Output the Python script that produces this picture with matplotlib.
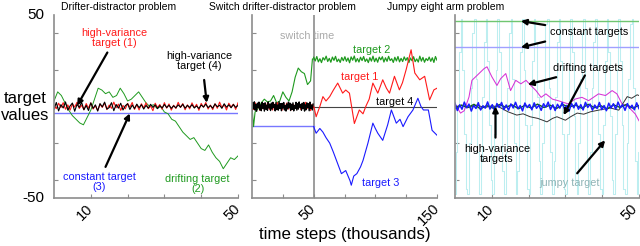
import numpy as np
import matplotlib
matplotlib.use("Agg")
import matplotlib.pyplot as plt
from matplotlib.transforms import ScaledTranslation

plt.rcParams['font.family'] = ['Liberation Sans', 'DejaVu Sans']

# ---------------- data ----------------
# panel 1: drifter-distractor
p1_red_hv = [0.5, -1.2, 1.8, -0.6, 2.1, -1.5, 0.9, -2.0, 1.4, -0.3, 2.3, -1.1, 0.7, -1.8, 1.6, -0.9,
             2.0, -1.4, 0.4, -2.2, 1.2, -0.5, 1.9, -1.7, 0.8, -1.0, 2.4, -0.7, 1.3, -2.1, 0.6, -1.3,
             1.7, -0.4, 2.2, -1.6, 1.0, -1.9, 1.5, -0.8, 2.0, -1.2, 0.3, -2.3, 1.8, -0.6, 1.1, -1.5,
             2.1, -0.9, 1.4, -2.0, 0.7, -1.1, 2.3, -0.5, 1.6, -1.8, 0.9, -1.3, 2.0, -0.7, 1.2, -2.1,
             1.7, -0.4, 2.2, -1.4, 0.8, -1.7, 1.5, -1.0, 2.4, -0.6, 1.1, -1.9, 1.8, -0.3, 1.3, -1.6, 2.0]
p1_black_hv = [-1.5, 2.2, -2.4, 1.0, -0.8, 2.5, -2.0, 0.3, 1.9, -2.6, 1.2, -0.5, 2.3, -1.8, 0.6, -2.2,
               2.0, -1.0, 0.9, -2.5, 1.6, -0.2, 2.4, -1.4, -0.6, 2.1, -2.3, 1.1, -0.9, 1.8, -1.9, 0.4,
               1.5, -1.6, 0.8, -1.1, 1.3, -0.7, 1.0, -1.4, 0.6, -0.9, 1.2, -0.5, 0.9, -1.2, 0.5, -0.8,
               1.1, -0.6, 0.7, -1.0, 0.4, -0.7, 0.9, -0.4, 1.2, -0.9, 0.6, -0.5, 1.0, -0.8, 0.3, -1.1,
               0.8, -0.3, 1.3, -0.6, 0.5, -0.9, 1.4, -0.2, 0.7, -1.0, 1.5, -0.4, 0.9, -0.7, 1.1, -0.5, 0.6]
p1_green_drift = [3, 8, 6, 2, -2, -5, -7, -9, -10, -6, -2, 4, 10, 9, 7, 8, 5, 6, 10, 7, 3, 4, 6, 8, 5,
                  2, 0, 1, -1, 0, -3, -4, -7, -8, -11, -14, -16, -18, -17, -20, -23, -24, -21, -25,
                  -28, -30, -34, -31, -28, -29, -27]
p1_blue_const = -3.6

# panel 2: switch drifter-distractor
p2_green_drift_t = [0, 1.25, 2.5, 5, 7.5, 10, 12.5, 15, 17.5, 20, 22.5, 25, 27.5, 30, 32.5, 35, 37.5,
                    40, 42.5, 45, 47.5, 49, 50]
p2_green_drift = [0, -11, -3, -1, 2, 4, 2.5, 3, 6, 2, 3, 8, 5, 3, 8, 16, 21, 19, 18, 12, 14, 26, 26]
p2_green_hv = [25.7 + d for d in
               [1.2, -0.8, 1.6, -1.3, 0.4, -1.7, 1.0, -0.3, 1.8, -1.1, 0.6, -1.5, 1.3, -0.5, 1.7, -1.2,
                0.2, -1.6, 1.1, -0.7, 1.5, -1.0, 0.8, -1.8, 1.4, -0.4, 1.9, -1.3, 0.5, -1.4, 1.2, -0.6,
                1.6, -1.1, 0.3, -1.7, 1.0, -0.9, 1.8, -1.2, 0.7, -1.5, 1.3, -0.2, 1.5, -1.4, 0.9, -1.0,
                1.7, -0.6, 0.4, -1.6, 1.2, -0.8, 1.6, -1.3, 0.6, -1.1, 1.4, -0.5, 1.0, -1.7, 0.8, -0.7,
                1.5, -1.2, 0.3, -1.4, 1.8, -0.9, 1.1, -1.5, 0.5, -0.6, 1.3, -1.0, 0.9, -1.6, 1.6, -0.4]]
p2_red_hv = [1.0, -1.6, 2.0, -0.9, 1.4, -2.1, 0.6, -1.2, 1.8, -0.4, 2.2, -1.5, 0.8, -1.9, 1.3, -0.7,
             2.1, -1.1, 0.5, -2.0, 1.6, -0.6, 1.9, -1.4, 0.9, -1.8, 1.2, -0.3, 2.0, -1.3, 0.7, -1.7,
             1.5, -0.8, 2.3, -1.0, 0.4, -2.2, 1.1, -0.5]
p2_red_drift_t = [50, 50.5, 52, 55, 57.5, 60, 63, 66, 69.5, 73.5, 76, 79, 83, 87, 90, 92.5, 95, 98, 102,
                  106, 109, 111.5, 115.5, 119.5, 122, 125, 129, 132, 136, 140, 144, 147.5, 150]
p2_red_drift = [0, -1, -5.6, 0, 5.4, 3, 5.4, 9, 12.8, 7.3, 9, 7.3, -9.3, -1.9, -4, 0.4, 4, 12.8, 7.3,
                14.6, 10, 7.3, 16.5, 9.1, 13, 20.2, 31, 18.3, 14.6, 16.5, 3.6, 9.1, 10]
p2_black_hv = [-2.4, 2.1, -1.2, 2.6, -2.0, 1.1, -2.6, 1.8, -0.6, 2.4, -1.8, 0.9, -2.3, 2.2, -1.0, 1.6,
               -2.5, 2.0, -1.5, 0.7, -2.1, 2.5, -0.8, 1.3, -2.2, 1.9, -1.4, 2.3, -0.5, 1.0, -2.4, 2.1,
               -1.7, 0.8, -2.0, 2.6, -1.1, 1.5, -2.3, 1.7, -0.9, 2.2, -1.9, 0.5, -2.5, 1.4, -1.3, 2.4,
               -0.7, 1.9, -2.2, 1.2, -1.6, 2.0, -2.4, 0.6, -1.0, 2.3, -2.0, 1.6, -1.4, 2.5, -0.4, 1.1,
               -2.1, 1.8, -1.2, 2.2, -2.5, 0.9, -1.8, 2.0, -0.6, 1.5, -2.3, 2.4, -1.1, 0.8, -1.9, 1.3]
p2_black_const = 0.0
p2_blue_const = -10.6
p2_blue_drift_t = [50, 52, 55, 57.5, 60, 63, 66, 68.5, 72.5, 76, 79.5, 80.5, 82.5, 85, 88, 90, 94, 98,
                   100, 102, 106, 110, 113, 117, 120, 122.5, 126.5, 130.5, 134.5, 137, 139, 143, 146, 150]
p2_blue_drift = [-11, -14.6, -12, -14, -17, -20, -25, -29.5, -36.7, -35, -40.6, -43, -38, -36.7, -33,
                 -29.5, -20, -9.1, -12, -14.6, -18.5, -10, -1.9, -9.1, -7, -11, -5.6, -1.9, 4.5, 0,
                 -1.9, -1.9, -13, -15.7]

# panel 3: jumpy eight arm
p3_green_const = 46.7
p3_blue_const = 32.3
p3_magenta_t = [0, 1.5, 2.5, 3.8, 4.6, 6, 7.9, 8.7, 10, 11.4, 12.4, 13.8, 15.1, 16.5, 17.9, 19.3, 20.6,
                22, 23.4, 24.7, 26.5, 28, 30.8, 32.7, 34.5, 36.3, 39, 40.9, 42.7, 44, 45.4, 47, 49, 50]
p3_magenta = [1.4, -3.6, -2.3, 5.2, 14.3, 17, 20.7, 21.7, 16.3, 11.5, 15.2, 18, 8.7, 14.3, 12.4, 14.3,
              11.5, 8.7, 5, 6.9, 4, 3.2, 1.4, 4.1, 5, 3.2, 6.9, 6, 8.7, 6.9, 1.4, 0, -4.1, -7.8]
p3_black_t = [0, 2, 4, 6, 8, 10, 12, 14.4, 16.8, 18.5, 20.4, 22.5, 25, 26.5, 27.7, 30, 31.5, 33.2,
              35, 36.8, 39, 42.2, 44.5, 46.8, 48, 49.5, 50]
p3_black = [0, 0.5, -0.5, 0.8, -0.6, 0.4, -0.3, -2.9, -4.7, -4, -5.6, -6.5, -8.4, -6.5, -5.6, -7.5,
            -5.5, -3.6, -4.2, -2.9, -2, -0.8, -2, 5.4, 4.5, 6.4, 6]
p3_blue_hv = [1.8, -2.2, 0.9, -1.5, 2.4, -0.7, 1.3, -2.5, 0.6, -1.1, 2.1, -1.9, 0.4, -0.9, 2.5, -1.4,
              1.0, -2.3, 1.6, -0.5, 2.2, -1.7, 0.8, -2.0, 1.4, -0.8, 2.3, -1.2, 0.5, -2.4, 1.9, -0.6,
              1.1, -1.8, 2.0, -1.0, 0.7, -2.1, 1.5, -0.4, 2.4, -1.6, 0.9, -2.2, 1.2, -0.9, 2.1, -1.3,
              0.6, -2.5, 1.7, -0.7, 2.0, -1.5, 1.0, -1.9, 2.3, -0.5, 1.3, -2.0, 0.8, -1.1, 2.2, -1.7,
              0.5, -2.3, 1.8, -0.8, 1.5, -1.4, 2.4, -0.6, 1.0, -2.1, 1.6, -1.0, 0.7, -1.8, 2.0, -1.2]
p3_green_hv = [-1.0, 0.8, -0.6, 1.2, -1.3, 0.5, -0.9, 1.1, -0.4, 0.9, -1.2, 0.6, -0.8, 1.3, -0.5, 0.7,
               -1.1, 1.0, -0.3, 0.8, -1.0, 1.2, -0.7, 0.4, -1.3, 0.9, -0.5, 1.1, -0.9, 0.6]
p3_jumpy = [-48, -25, 0, 30, 48, 20, -15, -45,
            -48, -20, 10, 40, 48, 15, -25, -48,
            -30, 5, 35, 48, 25, -10, -40, -48,
            -15, 20, 48, 30, 0, -35, -48, -25,
            10, 40, 48, 15, -20, -48, -35, 0,
            30, 48, 20, -10, -45, -48, -10, 25,
            48, 35, 5, -30, -48, -20, 15, 45,
            48, 10, -25, -48, -30, 5, 35, 48,
            25, -15, -45, -48, -15, 20, 48, 30,
            -5, -40, -48, -20, 15, 40, 48, 10,
            -30, -48, -25, 10, 35, 48, 20, -15,
            -45, -48, -10, 25, 48, 30, -5, -40,
            -48, -15, 20, 48, 25, -10, -45, -48,
            -20, 15, 45, 48, 10, -30, -48, -25]

RED = '#ff1a1a'
GREEN = '#1f9a1f'
BLUE = '#1a1aff'
LBLUE = '#7777ff'
GRAY = '#8c8c8c'


def style_axes(ax, xmax, xticks, labelled):
    ax.set_xlim(0, xmax)
    ax.set_ylim(-50, 50)
    for s in ['top', 'right']:
        ax.spines[s].set_visible(False)
    for s in ['left', 'bottom']:
        ax.spines[s].set_color(GRAY)
        ax.spines[s].set_linewidth(1.2)
    ax.set_yticks([-40, -20, 0, 20, 40])
    ax.set_yticklabels([])
    ax.set_xticks(xticks)
    ax.set_xticklabels([str(t) if t in labelled else '' for t in xticks],
                       rotation=45, ha='right', va='center', rotation_mode='anchor', fontsize=10.5)
    ax.tick_params(direction='in', length=3, color=GRAY, width=0.8, pad=6)


fig = plt.figure(figsize=(6.4, 2.46), dpi=100)
ax1 = fig.add_axes([54 / 640, 1 - 198 / 246, 184 / 640, 183 / 246])
ax2 = fig.add_axes([252 / 640, 1 - 198 / 246, 185 / 640, 183 / 246])
ax3 = fig.add_axes([455 / 640, 1 - 198 / 246, 184 / 640, 183 / 246])

arrow = dict(arrowstyle='-|>', color='k', lw=1.6, mutation_scale=8, shrinkA=0, shrinkB=0)
FS = 7.8

# ---------------- panel 1 ----------------
ax1.axhline(p1_blue_const, color=LBLUE, lw=1)
ax1.plot(np.linspace(0, 50, len(p1_green_drift)), p1_green_drift, color=GREEN, lw=0.7)
ax1.plot(np.linspace(0, 50, len(p1_red_hv)), p1_red_hv, color=RED, lw=0.8)
ax1.plot(np.linspace(0, 50, len(p1_black_hv)), p1_black_hv, color='k', lw=0.8)
style_axes(ax1, 50, [10, 20, 30, 40, 50], [10, 50])
ax1.text(16.5, 37.5, 'high-variance\ntarget (1)', color=RED, fontsize=FS, ha='center', va='center',
         linespacing=1.0)
ax1.annotate('', xy=(6.3, 0.5), xytext=(14.5, 29.5), arrowprops=arrow)
ax1.text(39.5, 25, 'high-variance\ntarget (4)', color='k', fontsize=FS, ha='center', va='center',
         linespacing=1.0)
ax1.annotate('', xy=(41.5, 2), xytext=(40.8, 14.5), arrowprops=arrow)
ax1.text(12.3, -41.5, 'constant target\n(3)', color=BLUE, fontsize=FS, ha='center', va='center',
         linespacing=1.0)
ax1.annotate('', xy=(20.6, -3.8), xytext=(14, -33), arrowprops=arrow)
ax1.text(39, -42.5, 'drifting target\n(2)', color=GREEN, fontsize=FS, ha='center', va='center',
         linespacing=1.0)
ax1.text(-2.5, 50, '50', fontsize=11, ha='right', va='center')
ax1.text(-2.5, -50, '-50', fontsize=11, ha='right', va='center')

# ---------------- panel 2 ----------------
ax2.axvline(50, color=GRAY, lw=1.2)
ax2.plot([0, 50], [p2_blue_const, p2_blue_const], color=LBLUE, lw=1)
ax2.plot([50, 150], [p2_black_const, p2_black_const], color='#444444', lw=0.8)
ax2.plot(p2_green_drift_t, p2_green_drift, color=GREEN, lw=0.8)
ax2.plot(np.linspace(50, 150, len(p2_green_hv)), p2_green_hv, color=GREEN, lw=0.9)
ax2.plot(np.linspace(0, 50, len(p2_red_hv)), p2_red_hv, color=RED, lw=0.9)
ax2.plot(p2_red_drift_t, p2_red_drift, color=RED, lw=0.8)
ax2.plot(p2_blue_drift_t, p2_blue_drift, color=BLUE, lw=0.8)
ax2.plot(np.linspace(0, 49.5, len(p2_black_hv)), p2_black_hv, color='k', lw=1.0)
style_axes(ax2, 150, [25, 50, 75, 100, 125, 150], [50, 150])
ax2.text(45, 38.5, 'switch time', color='#aaaaaa', fontsize=FS, ha='center', va='center')
ax2.text(97, 31, 'target 2', color=GREEN, fontsize=FS, ha='center', va='center')
ax2.text(87.5, 16, 'target 1', color=RED, fontsize=FS, ha='center', va='center')
ax2.text(116, 2.5, 'target 4', color='k', fontsize=FS, ha='center', va='center')
ax2.text(104, -42, 'target 3', color=BLUE, fontsize=FS, ha='center', va='center')

# ---------------- panel 3 ----------------
ax3.plot(np.linspace(0, 50, len(p3_jumpy)), p3_jumpy, color='#bdeef0', lw=0.75, drawstyle='steps-mid')
ax3.axhline(p3_green_const, color='#70c670', lw=1)
ax3.axhline(p3_blue_const, color='#a0a0ff', lw=1)
ax3.plot(p3_magenta_t, p3_magenta, color='#d633d6', lw=0.75)
ax3.plot(p3_black_t, p3_black, color='#333333', lw=0.7)
ax3.plot(np.linspace(0, 50, len(p3_green_hv)), p3_green_hv, color='#116611', lw=1.0)
ax3.plot(np.linspace(0, 50, len(p3_blue_hv)), p3_blue_hv, color=BLUE, lw=1.1)
style_axes(ax3, 50, [10, 20, 30, 40, 50], [10, 50])
# last tick label sits on the figure edge, nudge it inwards a little
last = ax3.get_xticklabels()[-1]
last.set_transform(last.get_transform() + ScaledTranslation(-3 / 72, 0, fig.dpi_scale_trans))
ax3.text(36.5, 40.5, 'constant targets', color='k', fontsize=FS, ha='center', va='center')
ax3.annotate('', xy=(17.9, 46.7), xytext=(24.5, 44.5), arrowprops=arrow)
ax3.annotate('', xy=(17.9, 32.3), xytext=(24.5, 35.5), arrowprops=arrow)
ax3.text(36, 21, 'drifting targets', color='k', fontsize=FS, ha='center', va='center')
ax3.annotate('', xy=(19.8, 12), xytext=(27.5, 16), arrowprops=arrow)
ax3.annotate('', xy=(29.5, -4.7), xytext=(35.3, 17), arrowprops=arrow)
ax3.text(11.4, -26, 'high-variance\ntargets', color='k', fontsize=FS, ha='center', va='center',
         linespacing=1.0)
ax3.annotate('', xy=(11, 0), xytext=(11, -17), arrowprops=arrow)
ax3.text(31, -42, 'jumpy target', color='#8fb3b5', fontsize=FS, ha='center', va='center')
ax3.annotate('', xy=(40.8, -18.5), xytext=(33.2, -36.5), arrowprops=arrow)

# ---------------- titles and shared labels ----------------
fig.text(119 / 640, 1 - 7 / 246, 'Drifter-distractor problem', fontsize=7.5, ha='center', va='center')
fig.text(282 / 640, 1 - 7 / 246, 'Switch drifter-distractor problem', fontsize=7.5, ha='center',
         va='center')
fig.text(446 / 640, 1 - 7 / 246, 'Jumpy eight arm problem', fontsize=7.5, ha='center', va='center')
fig.text(25 / 640, 1 - 107 / 246, 'target\nvalues', fontsize=12, ha='center', va='center',
         linespacing=1.2)
fig.text(345 / 640, 1 - 235 / 246, 'time steps (thousands)', fontsize=12.2, ha='center', va='center')

fig.savefig('out.png', dpi=100)
